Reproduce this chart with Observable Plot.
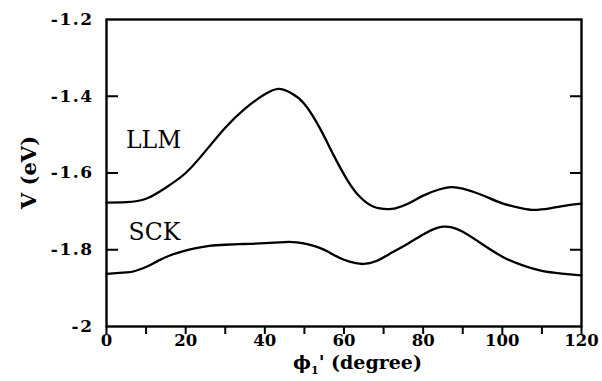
<!DOCTYPE html>
<html><head><meta charset="utf-8">
<script src="https://cdn.jsdelivr.net/npm/d3@7"></script>
<script src="https://cdn.jsdelivr.net/npm/@observablehq/plot@0.6"></script>
<style>body{margin:0;background:#fff}</style>
</head><body><div id="chart"></div>
<script>
const llmPhi = [0,5,10,15,20,25,30,35,40,43.5,46.5,50,54,57.5,61,64,67.5,71,73,76,80,84,87,90,95,100,105,108,112,116,120];
const llmV = [-1.677,-1.676,-1.667,-1.638,-1.600,-1.543,-1.482,-1.432,-1.395,-1.381,-1.391,-1.420,-1.485,-1.556,-1.621,-1.662,-1.688,-1.694,-1.692,-1.681,-1.659,-1.643,-1.637,-1.641,-1.658,-1.679,-1.692,-1.696,-1.692,-1.685,-1.680];
const sckPhi = [0,5,7,10,13,16,19,22,26,30,35,40,45,48,53,57,60,63,65,68,72,76,80,83,85,87,90,94,100,105,110,115,120];
const sckV = [-1.863,-1.859,-1.856,-1.845,-1.829,-1.815,-1.805,-1.797,-1.790,-1.787,-1.785,-1.783,-1.780,-1.781,-1.792,-1.811,-1.826,-1.835,-1.837,-1.830,-1.808,-1.785,-1.760,-1.745,-1.740,-1.741,-1.753,-1.779,-1.818,-1.840,-1.855,-1.862,-1.867];
const xTicks = [0,10,20,30,40,50,60,70,80,90,100,110,120];
const xLabelTicks = [0,20,40,60,80,100,120];
const yTicks = [-1.4,-1.6,-1.8];
const yLabelTicks = [-2,-1.8,-1.6,-1.4,-1.2];
const seriesNames = ["LLM","SCK"];
const seriesLabelPhi = [11.9,12.1];
const seriesLabelV = [-1.515,-1.755];

const llm = llmPhi.map((p,i)=>({phi:p, V:llmV[i]}));
const sck = sckPhi.map((p,i)=>({phi:p, V:sckV[i]}));
const labels = seriesNames.map((n,i)=>({name:n, phi:seriesLabelPhi[i], V:seriesLabelV[i]}));
const fmtY = d => d === -2 ? "-2" : d.toFixed(1);

const plot = Plot.plot({
  width: 602, height: 381,
  marginLeft: 106, marginRight: 21, marginTop: 19, marginBottom: 55,
  x: {domain: [0,120]},
  y: {domain: [-2,-1.2]},
  style: {fontFamily: "DejaVu Serif", fontSize: "16.5px", fontWeight: "bold", background: "white", color: "black"},
  marks: [
    Plot.axisX({ticks: xTicks, tickSize: 8, tickFormat: () => "", label: null, strokeWidth: 2}),
    Plot.axisX({ticks: xLabelTicks, tickSize: 0, tickPadding: 8, tickFormat: d => String(d), label: null, fontSize: 16.5}),
    Plot.axisY({ticks: yTicks, anchor: "left", tickSize: -12, tickFormat: () => "", label: null, strokeWidth: 2}),
    Plot.axisY({ticks: yTicks, anchor: "right", tickSize: -12, tickFormat: () => "", label: null, strokeWidth: 2}),
    Plot.axisY({ticks: yLabelTicks, anchor: "left", tickSize: 0, tickPadding: 13, tickFormat: fmtY, label: null, fontSize: 17}),
    Plot.line(llm, {x: "phi", y: "V", curve: "natural", strokeWidth: 2.3, stroke: "black"}),
    Plot.line(sck, {x: "phi", y: "V", curve: "natural", strokeWidth: 2.3, stroke: "black"}),
    Plot.text(labels, {x: "phi", y: "V", text: "name", fontSize: 23.5, fontWeight: "normal", fill: "black"}),
    Plot.frame({strokeWidth: 2.4, stroke: "black"})
  ]
});

const svg = d3.select(plot);
svg.selectAll('g[aria-label="y-axis tick label"] text').style("letter-spacing", "1.5px");
const xr = plot.scale("x").range;
const yr = plot.scale("y").range;
const xl = svg.append("text")
  .attr("x", (xr[0]+xr[1])/2 + 14).attr("y", yr[0] + 43)
  .attr("text-anchor", "middle")
  .style("font-family", "DejaVu Serif").style("font-weight", "bold").style("font-size", "19px")
  .attr("fill", "black");
xl.append("tspan").text("ϕ");
xl.append("tspan").style("font-size", "11px").attr("dy", 5).text("1");
xl.append("tspan").attr("dy", -5).text("' (degree)");
svg.append("text")
  .attr("transform", `translate(36,${(yr[0]+yr[1])/2}) rotate(-90)`)
  .attr("text-anchor", "middle")
  .style("font-family", "DejaVu Serif").style("font-weight", "bold").style("font-size", "21px")
  .attr("fill", "black")
  .text("V (eV)");

document.getElementById("chart").appendChild(plot);
</script>
</body></html>
